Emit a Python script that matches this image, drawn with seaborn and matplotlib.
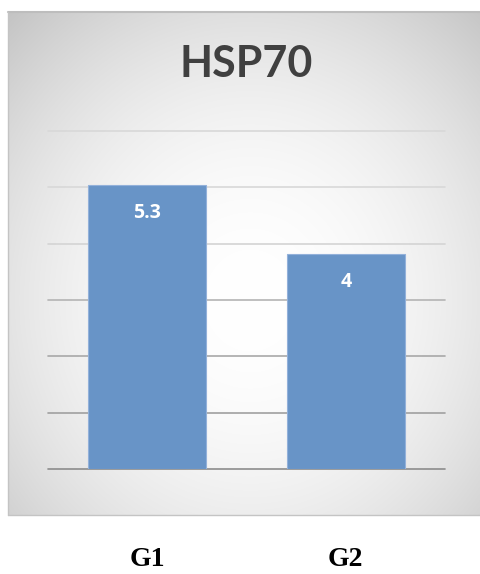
import numpy as np
import pandas as pd
import matplotlib
matplotlib.use("Agg")
import matplotlib.pyplot as plt
import seaborn as sns

categories = ["G1", "G2"]
values = [5.3, 4]
title = "HSP70"

df = pd.DataFrame({"group": categories, "value": values})

sns.set_theme(style="white")
plt.rcParams['font.family'] = ['Lato', 'DejaVu Sans']

W, H = 480, 574
fig = plt.figure(figsize=(W / 100, H / 100), dpi=100)

# background panel with radial gradient
bx0, bx1, by0, by1 = 8, 480, 12, 515
bg = fig.add_axes([bx0 / W, 1 - by1 / H, (bx1 - bx0) / W, (by1 - by0) / H], zorder=0)
yy, xx = np.mgrid[by0:by1, bx0:bx1]
d = np.sqrt(((xx - 250) / 1.0) ** 2 + ((yy - 300) / 1.1) ** 2)
v = 1 - 0.2 * np.clip(d / 330, 0, 1.3) ** 2.0
img = np.dstack([v, v, v])
bg.imshow(img, aspect="auto", extent=[0, 1, 0, 1], interpolation="bilinear")
bg.set_axis_off()
bg.plot([0, 1], [1, 1], color="#bdbdbd", lw=1.5, transform=bg.transAxes, clip_on=False)
bg.plot([0, 0], [0, 1], color="#c4c4c4", lw=1.0, transform=bg.transAxes, clip_on=False)
bg.plot([0, 1], [0, 0], color="#c4c4c4", lw=1.0, transform=bg.transAxes, clip_on=False)

# main axes
ax0, ax1, ay0, ay1 = 48, 445, 131, 469
ax = fig.add_axes([ax0 / W, 1 - ay1 / H, (ax1 - ax0) / W, (ay1 - ay0) / H], zorder=1)
ax.patch.set_alpha(0)

step = 1.05
sns.barplot(data=df, x="group", y="value", color="#6894c7", saturation=1,
            width=0.595, edgecolor="#93b1da", linewidth=0.8, ax=ax, zorder=3)

ax.set_xlim(-0.5, 1.5)
ax.set_ylim(0, 6 * step)
ax.set_yticks(np.arange(0, 7) * step)
ax.yaxis.grid(True)
gcols = ["#8c8c8c", "#a0a0a0", "#a8a8a8", "#b4b4b4", "#d4d4d4", "#d8d8d8", "#d8d8d8"]
for gl, c in zip(ax.get_ygridlines(), gcols):
    gl.set_color(c)
    gl.set_linewidth(1.2)
    gl.set_zorder(1)
    gl.set_clip_on(False)
ax.set_axisbelow(True)
for s in ax.spines.values():
    s.set_visible(False)
ax.set_yticklabels([])
ax.tick_params(left=False, bottom=False)
ax.set_xlabel("")
ax.set_ylabel("")
ax.set_xticklabels([])

# value labels
for i, val in enumerate(values):
    lbl = f"{val:g}"
    ax.annotate(lbl, (i, val), xytext=(0, -28), textcoords="offset pixels",
                ha="center", va="center", color="white", fontsize=14,
                fontweight="bold", family=["Open Sans", "DejaVu Sans"], zorder=5)

# category labels below panel
for i, c in enumerate(categories):
    x_disp = ax.transData.transform((i, 0))[0]
    fig.text(x_disp / W, 1 - 560 / H, c, ha="center", va="center",
             fontsize=20, fontweight="bold", family=["Liberation Serif"], color="black")

fig.text(246 / W, 1 - 64 / H, title, ha="center", va="center",
         fontsize=31, fontweight="bold", color="#404040")

fig.savefig("out.png", dpi=100)
